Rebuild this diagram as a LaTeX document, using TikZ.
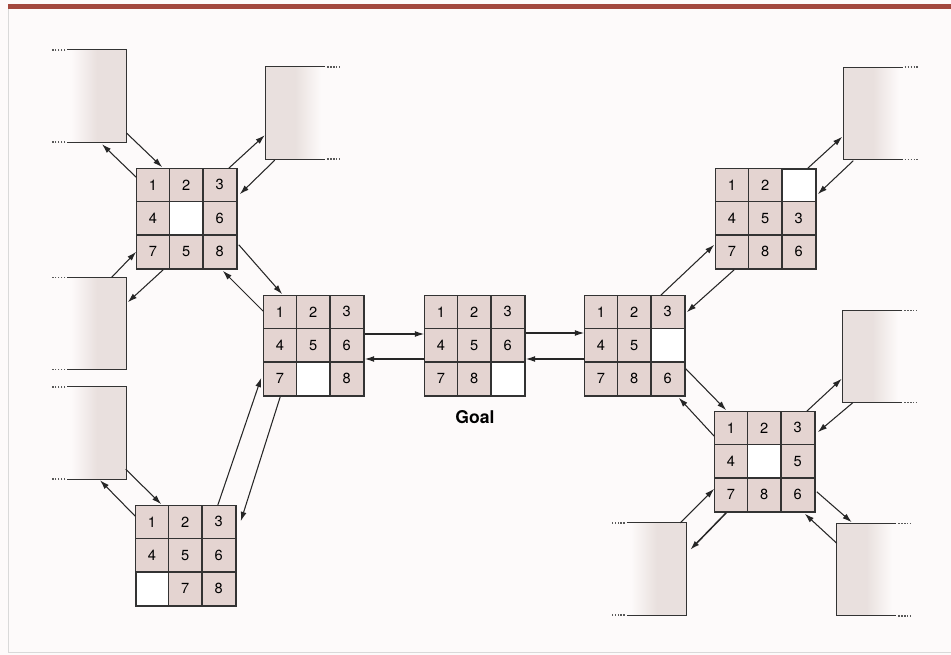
\documentclass[tikz,border=0pt]{standalone}
\usepackage{fontspec}
\setmainfont{TeX Gyre Heros}
\usetikzlibrary{arrows.meta,calc}
\definecolor{tilefill}{RGB}{228,212,209}
\definecolor{stubfill}{RGB}{233,224,222}
\definecolor{paper}{RGB}{253,250,250}
\definecolor{bandred}{RGB}{163,72,62}
\tikzset{
  board/.style={draw=black!80, line width=1.3pt, fill=white, minimum size=3cm, inner sep=0pt},
  tile/.style={draw=black!80, line width=1.1pt, fill=tilefill, minimum size=1cm, inner sep=0pt, font=\fontsize{12.5}{14}\selectfont},
  stub/.style={minimum width=1.77cm, minimum height=2.76cm, inner sep=0pt},
  edge/.style={line width=1.2pt, draw=black!80},
  dots/.style={line width=1.3pt, draw=black!65, dash pattern=on 1.2pt off 1.3pt},
  move/.style={-{Latex[length=8pt,width=5pt]}, line width=0.9pt, draw=black!85},
  goal/.style={font=\fontsize{15}{18}\selectfont\bfseries},
}
% one 3x3 board of tiles, 0 = blank square
\newcommand{\tiles}[2]{%
  \foreach \v [count=\i from 0] in {#2} {
    \pgfmathtruncatemacro{\col}{mod(\i,3)}
    \pgfmathtruncatemacro{\row}{div(\i,3)}
    \ifnum\v>0
      \node[tile] (#1-\i) at ($(#1.north west)+(16.667+33.333*\col,16.667+33.333*\row)$) {\v};
    \fi
  }%
}

\begin{document}
\begin{tikzpicture}[x=0.03cm, y=-0.03cm]
\useasboundingbox (0,0) rectangle (951,655);
\fill[paper] (0,0) rectangle (951,655);
\fill[bandred] (8,4) rectangle (951,9);
\draw[black!15, line width=0.8pt] (8,9) -- (8,652) -- (951,652);
% half-open boxes for the next states
\node[stub] (L1) at (97,96) {};
\node[stub] (L3) at (97,323.5) {};
\node[stub] (L4) at (97,433) {};
\node[stub] (B1) at (656.5,569) {};
\node[stub] (T2) at (295.5,113) {};
\node[stub] (R1) at (873,113.5) {};
\node[stub] (R2) at (872.5,356.5) {};
\node[stub] (B2) at (866.5,569.5) {};
\foreach \s in {L1,L3,L4,B1} {
  \shade[left color=paper, right color=stubfill] ($(\s.north west)+(4,0)$) rectangle (\s.south);
  \fill[stubfill] (\s.north) rectangle (\s.south east);
  \draw[edge] (\s.north west) -- (\s.north east) -- (\s.south east) -- (\s.south west);
  \draw[dots] ($(\s.north west)+(-2,0)$) -- ++(-13,0);
  \draw[dots] ($(\s.south west)+(-2,0)$) -- ++(-13,0);
}
\foreach \s in {T2,R1,R2,B2} {
  \shade[right color=paper, left color=stubfill] (\s.north) rectangle ($(\s.south east)+(-4,0)$);
  \fill[stubfill] (\s.north west) rectangle (\s.south);
  \draw[edge] (\s.north east) -- (\s.north west) -- (\s.south west) -- (\s.south east);
  \draw[dots] ($(\s.north east)+(2,0)$) -- ++(13,0);
  \draw[dots] ($(\s.south east)+(2,0)$) -- ++(13,0);
}
% boards
\node[board] (A) at (187,219) {};
\tiles{A}{1,2,3,4,0,6,7,5,8}
\node[board] (B) at (314,346) {};
\tiles{B}{1,2,3,4,5,6,7,0,8}
\node[board] (C) at (186,556) {};
\tiles{C}{1,2,3,4,5,6,0,7,8}
\node[board] (D) at (475,346) {};
\tiles{D}{1,2,3,4,5,6,7,8,0}
\node[board] (E) at (635,346) {};
\tiles{E}{1,2,3,4,5,0,7,8,6}
\node[board] (F) at (766,219) {};
\tiles{F}{1,2,0,4,5,3,7,8,6}
\node[board] (G) at (765,462) {};
\tiles{G}{1,2,3,4,0,5,7,8,6}
\node[goal] (goal) at (475,417) {Goal};
% moves
\draw[move] ($(L1.south east)+(0,-9)$) -- ($(A.north west)+(26,-1)$);
\draw[move] ($(A.north west)+(0,9)$) -- ($(L1.south)+(5,2)$);
\draw[move] ($(A.north east)+(-9,0)$) -- ($(T2.south west)+(-1,-24)$);
\draw[move] ($(T2.south west)+(9,1)$) -- ($(A.north east)+(2,26)$);
\draw[move] ($(L3.north east)+(-15,0)$) -- ($(A.south west)+(0,-18)$);
\draw[move] ($(A.south west)+(27,0)$) -- ($(L3.north east)+(1,25)$);
\draw[move] ($(A.south east)+(1,-25)$) -- ($(B.north west)+(19,-1)$);
\draw[move] ($(B.north west)+(0,16)$) -- ($(A.south east)+(-15,1)$);
\draw[move] ($(C.north east)+(-19,0)$) -- ($(B.south west)+(-2,-19)$);
\draw[move] ($(B.south west)+(17,0)$) -- ($(C.north east)+(4,16)$);
\draw[move] ($(L4.south east)+(-1,-10)$) -- ($(C.north west)+(26,-1)$);
\draw[move] ($(C.north west)+(0,11)$) -- ($(L4.south)+(3,1)$);
\draw[move] ($(B.east)+(0,-12)$) -- ($(D.west)+(0,-12)$);
\draw[move] ($(D.west)+(0,13)$) -- ($(B.east)+(0,13)$);
\draw[move] ($(D.east)+(0,-13)$) -- ($(E.west)+(0,-13)$);
\draw[move] ($(E.west)+(0,13)$) -- ($(D.east)+(0,13)$);
\draw[move] ($(E.north east)+(-25,0)$) -- ($(F.south west)+(-1,-25)$);
\draw[move] ($(F.south west)+(19,0)$) -- ($(E.north east)+(1,17)$);
\draw[move] ($(F.north east)+(-9,0)$) -- ($(R1.south west)+(-1,-23)$);
\draw[move] ($(R1.south west)+(10,1)$) -- ($(F.north east)+(1,26)$);
\draw[move] ($(E.south east)+(0,-28)$) -- ($(G.north west)+(12,-1)$);
\draw[move] ($(G.north west)+(0,25)$) -- ($(E.south east)+(-7,1)$);
\draw[move] ($(G.north east)+(-9,0)$) -- ($(R2.south west)+(-1,-24)$);
\draw[move] ($(R2.south west)+(10,0)$) -- ($(G.north east)+(2,21)$);
\draw[move] ($(B1.north east)+(-6,0)$) -- ($(G.south west)+(0,-24)$);
\draw[move, line width=1.3pt] ($(G.south west)+(12,0)$) -- ($(B1.north east)+(4,27)$);
\draw[move] ($(G.south east)+(1,-21)$) -- ($(B2.north west)+(15,-1)$);
\draw[move] ($(B2.north west)+(0,20)$) -- ($(G.south east)+(-11,1)$);
\end{tikzpicture}
\end{document}
